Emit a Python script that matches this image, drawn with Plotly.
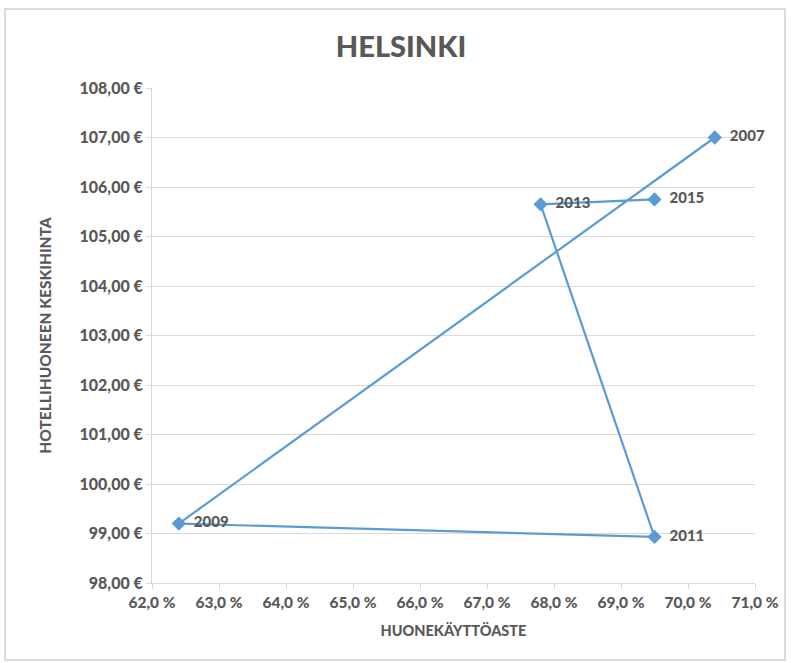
import plotly.graph_objects as go

years = ["2007", "2009", "2011", "2013", "2015"]
occupancy = [70.4, 62.4, 69.5, 67.8, 69.5]
price = [107.0, 99.2, 98.93, 105.65, 105.75]

W, H = 791, 663
L, R, T, B = 152, 36, 88, 80
pw, ph = W - L - R, H - T - B

def px_x(p):
    return (p - L) / pw

def px_y(p):
    return (H - B - p) / ph

grey = "#595959"
font_fam = "Lato, 'Open Sans', sans-serif"
labels = ["\u00a0\u00a0" + y for y in years]

fig = go.Figure()
fig.add_trace(go.Scatter(
    x=occupancy, y=price, text=labels,
    mode="lines+markers+text",
    textposition="middle right",
    textfont=dict(family=font_fam, size=15, color=grey, weight=900),
    line=dict(color="#5b9bd5", width=2.2),
    marker=dict(symbol="diamond", size=11, color="#5b9bd5"),
    cliponaxis=False,
    showlegend=False,
))

fig.update_layout(
    width=W, height=H,
    margin=dict(l=L, r=R, t=T, b=B),
    paper_bgcolor="white", plot_bgcolor="white",
    separators=", ",
    font=dict(family=font_fam, color=grey, size=15),
    title=dict(text="HELSINKI", x=401 / W, xref="container", xanchor="center",
               y=1 - 47 / H, yanchor="middle",
               font=dict(size=29, color=grey, family=font_fam, weight=900)),
    xaxis=dict(
        range=[62, 71], dtick=1, tick0=62, tickformat=".1f", ticksuffix=" %",
        showgrid=False, showline=True, linecolor="#d9d9d9", linewidth=1,
        ticks="outside", ticklen=5, tickcolor="#d9d9d9",
        tickfont=dict(size=15.5, color=grey, weight=900),
        title=dict(text="HUONEKÄYTTÖASTE", font=dict(size=14.5, color=grey, weight=900), standoff=16),
        zeroline=False,
    ),
    yaxis=dict(
        range=[98, 108], dtick=1, tick0=98, tickformat=".2f", ticksuffix=" €",
        showgrid=True, gridcolor="#d9d9d9", gridwidth=1,
        showline=True, linecolor="#d9d9d9", linewidth=1,
        ticks="outside", ticklen=5, tickcolor="#d9d9d9",
        tickfont=dict(size=16, color=grey, weight=900),
        title=dict(text="HOTELLIHUONEEN KESKIHINTA", font=dict(size=15.5, color=grey, weight=900), standoff=24),
        zeroline=False,
    ),
    shapes=[dict(type="rect", xref="paper", yref="paper",
                 x0=px_x(5), x1=px_x(785), y0=px_y(660), y1=px_y(9),
                 line=dict(color="#d0d0d0", width=1.5), fillcolor="rgba(0,0,0,0)", layer="below")],
)

fig.write_html("out.html")
